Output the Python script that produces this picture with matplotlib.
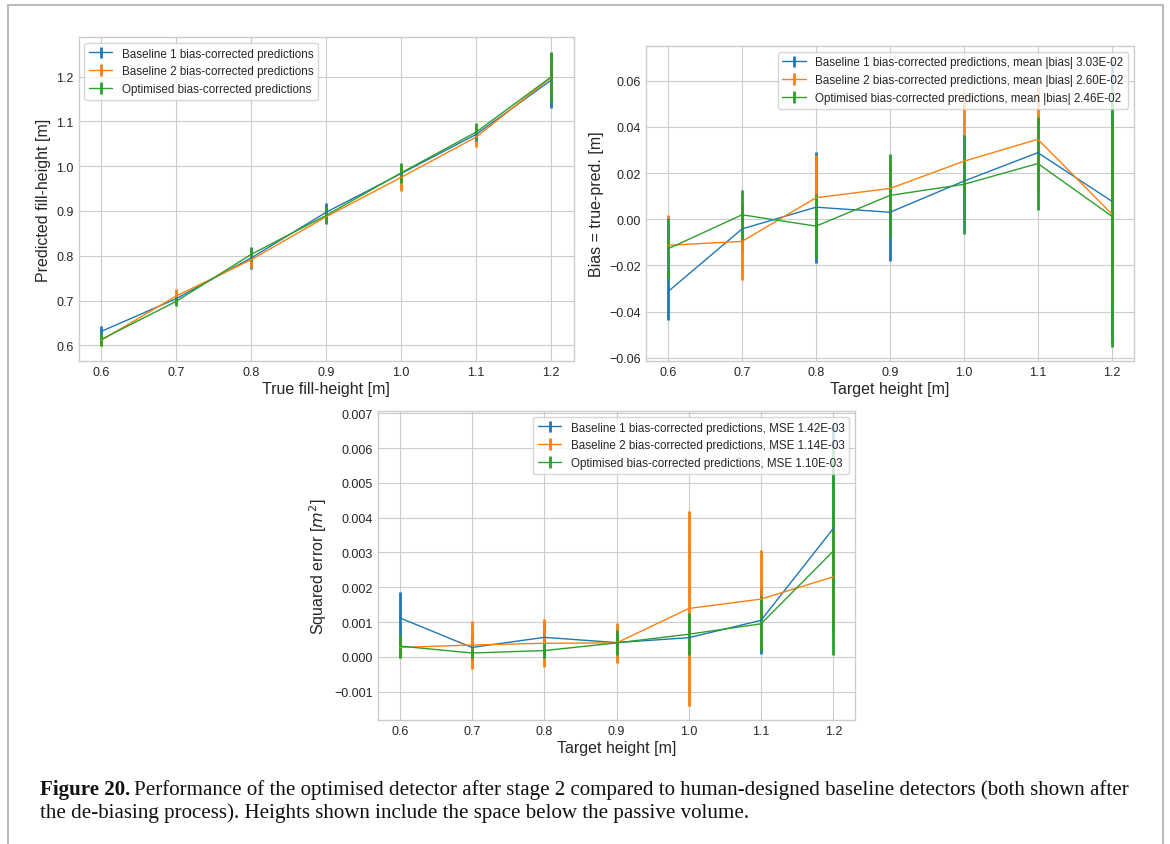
import numpy as np
import matplotlib
matplotlib.use('Agg')
import matplotlib.pyplot as plt
from matplotlib.lines import Line2D

plt.style.use('seaborn-v0_8-whitegrid')
plt.rcParams['font.family'] = ['Liberation Sans', 'DejaVu Sans']

heights = [0.6, 0.7, 0.8, 0.9, 1.0, 1.1, 1.2]

# predicted fill-height (panel 1)
pred_b1 = [0.631, 0.704, 0.795, 0.897, 0.9835, 1.071, 1.192]
pred_b2 = [0.611, 0.710, 0.791, 0.887, 0.975, 1.065, 1.198]
pred_opt = [0.613, 0.698, 0.803, 0.890, 0.985, 1.076, 1.199]

# bias = true - pred (panel 2)
bias_b1 = [-0.0313, -0.0042, 0.0052, 0.0030, 0.0165, 0.0288, 0.0078]
bias_b2 = [-0.0113, -0.0096, 0.0093, 0.0133, 0.0251, 0.0346, 0.0023]
bias_opt = [-0.0128, 0.0019, -0.0030, 0.0103, 0.0151, 0.0241, 0.0013]
bias_err_b1 = [0.0123, 0.010, 0.024, 0.021, 0.015, 0.015, 0.061]
bias_err_b2 = [0.013, 0.0166, 0.0185, 0.012, 0.0298, 0.0225, 0.040]
bias_err_opt = [0.0133, 0.0107, 0.0137, 0.018, 0.0215, 0.0202, 0.0565]

# squared error (panel 3)
se_b1 = [0.00112, 0.00027, 0.00056, 0.00041, 0.00055, 0.00105, 0.00369]
se_b2 = [0.00027, 0.00034, 0.00039, 0.00040, 0.00139, 0.00166, 0.00230]
se_opt = [0.00031, 0.00011, 0.00018, 0.00040, 0.00065, 0.00095, 0.00304]
se_err_b1 = [0.00074, 0.0004, 0.0004, 0.0003, 0.0005, 0.00097, 0.00297]
se_err_b2 = [0.00030, 0.00070, 0.00069, 0.00058, 0.0028, 0.0014, 0.0015]
se_err_opt = [0.00033, 0.00013, 0.00021, 0.00036, 0.0006, 0.00079, 0.0030]

names = ['Baseline 1 bias-corrected predictions',
         'Baseline 2 bias-corrected predictions',
         'Optimised bias-corrected predictions']
mean_bias = ['3.03E-02', '2.60E-02', '2.46E-02']
mse = ['1.42E-03', '1.14E-03', '1.10E-03']
colors = ['#1f77b4', '#ff7f0e', '#2ca02c']

fig = plt.figure(figsize=(11.7, 8.45), dpi=100)
ax1 = fig.add_axes([0.0671, 0.5716, 0.4231, 0.3834])
ax2 = fig.add_axes([0.5521, 0.5716, 0.4171, 0.3728])
ax3 = fig.add_axes([0.3231, 0.1468, 0.4077, 0.3656])

kw = dict(lw=1, elinewidth=2, capsize=0)

preds = [pred_b1, pred_b2, pred_opt]
biases = [bias_b1, bias_b2, bias_opt]
bias_errs = [bias_err_b1, bias_err_b2, bias_err_opt]
ses = [se_b1, se_b2, se_opt]
se_errs = [se_err_b1, se_err_b2, se_err_opt]

for i in range(3):
    ax1.errorbar(heights, preds[i], yerr=bias_errs[i], color=colors[i], label=names[i], **kw)
    ax2.errorbar(heights, biases[i], yerr=bias_errs[i], color=colors[i],
                 label=names[i] + ', mean |bias| ' + mean_bias[i], **kw)
    ax3.errorbar(heights, ses[i], yerr=se_errs[i], color=colors[i],
                 label=names[i] + ', MSE ' + mse[i], **kw)

ax1.set_xlabel('True fill-height [m]', fontsize=11.5, labelpad=2)
ax1.set_ylabel('Predicted fill-height [m]', fontsize=11.5)
ax2.set_xlabel('Target height [m]', fontsize=11.5, labelpad=2)
ax2.set_ylabel('Bias = true-pred. [m]', fontsize=11.5)
ax3.set_xlabel('Target height [m]', fontsize=11.5, labelpad=2)
ax3.set_ylabel('Squared error [$m^2$]', fontsize=11.5)

ax1.legend(loc='upper left', frameon=True, fontsize=8.4)
ax2.legend(loc='upper right', frameon=True, fontsize=8.4)
ax3.legend(loc='upper right', frameon=True, fontsize=8.4)

for ax in (ax1, ax2, ax3):
    ax.tick_params(labelsize=9)

# page frame
fig.add_artist(Line2D([8 / 1170, 8 / 1170], [0, 1 - 6 / 845], color='#bbbbbb', lw=1.5))
fig.add_artist(Line2D([8 / 1170, 1163 / 1170], [1 - 6 / 845, 1 - 6 / 845], color='#bbbbbb', lw=1.5))
fig.add_artist(Line2D([1163 / 1170, 1163 / 1170], [0, 1 - 6 / 845], color='#bbbbbb', lw=1.5))

# caption
cap_font = ['Liberation Serif', 'DejaVu Serif']
cap_size = 15.1
t = fig.text(40 / 1170, 1 - 790 / 845, 'Figure 20.', fontsize=cap_size, fontweight='bold',
             family=cap_font, va='center', ha='left', color='#111111')
fig.canvas.draw()
bb = t.get_window_extent()
fig.text((bb.x1 + 4) / 1170, 1 - 790 / 845,
         'Performance of the optimised detector after stage 2 compared to human-designed '
         'baseline detectors (both shown after', fontsize=cap_size, family=cap_font,
         va='center', ha='left', color='#111111')
fig.text(40 / 1170, 1 - 813 / 845,
         'the de-biasing process). Heights shown include the space below the passive volume.',
         fontsize=cap_size, family=cap_font, va='center', ha='left', color='#111111')

fig.savefig('out.png', dpi=100)
